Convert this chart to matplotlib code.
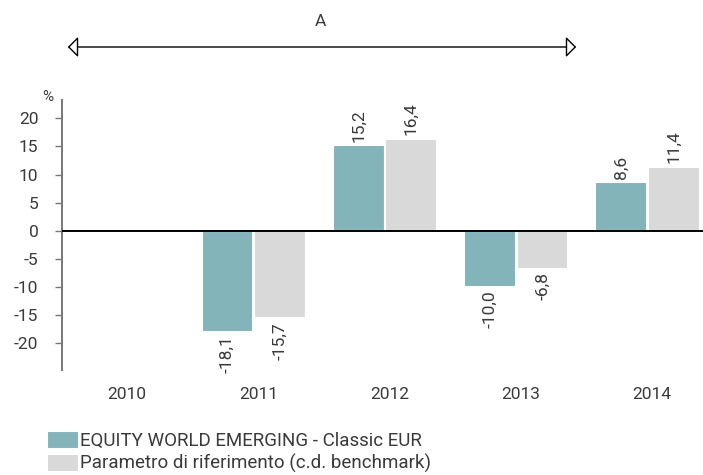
import matplotlib

matplotlib.use("Agg")
import matplotlib.pyplot as plt
import numpy as np
from matplotlib.patches import FancyArrowPatch

plt.rcParams["font.family"] = ["Roboto", "DejaVu Sans"]

years = ["2010", "2011", "2012", "2013", "2014"]
fund = [np.nan, -18.1, 15.2, -10.0, 8.6]
bench = [np.nan, -15.7, 16.4, -6.8, 11.4]
fund_label = "EQUITY WORLD EMERGING - Classic EUR"
bench_label = "Parametro di riferimento (c.d. benchmark)"
yticks = [-20, -15, -10, -5, 0, 5, 10, 15, 20]

TEAL = "#82b4ba"
GREY = "#d9d9d9"
TXT = "#3a3a3a"


def fmt(v):
    return f"{v:.1f}".replace(".", ",")


def main() -> None:
    fig = plt.figure(figsize=(7.03, 4.75), dpi=100)
    ax = fig.add_axes([62 / 703, 105 / 475, 656.5 / 703, 270 / 475])

    x = np.arange(len(years))
    w = 0.395
    b1 = ax.bar(x - 0.235, fund, w, color=TEAL, edgecolor="white", linewidth=1.5, label=fund_label)
    b2 = ax.bar(x + 0.165, bench, w, color=GREY, edgecolor="white", linewidth=1.5, label=bench_label)

    for bars, vals in ((b1, fund), (b2, bench)):
        for rect, v in zip(bars, vals):
            if np.isnan(v):
                continue
            cx = rect.get_x() + rect.get_width() / 2
            ax.annotate(
                fmt(v),
                (cx, v),
                xytext=(0, 2.5 if v > 0 else -2.5),
                textcoords="offset points",
                rotation=90,
                ha="center",
                va="bottom" if v > 0 else "top",
                fontsize=12.5,
                color=TXT,
            )

    ax.axhline(0, color="black", linewidth=1.4, zorder=3)
    ax.set_xlim(-0.495, 4.505)
    ax.set_ylim(-24.9, 23.3)
    ax.set_yticks(yticks)
    ax.set_yticklabels([str(t) for t in yticks], fontsize=12.5, color=TXT)
    ax.set_xticks(x)
    ax.set_xticklabels(years, fontsize=12.5, color=TXT)
    ax.tick_params(axis="x", length=0, pad=12)
    ax.tick_params(axis="y", length=5, width=1, color="#777777", pad=12)
    for s in ("top", "right", "bottom"):
        ax.spines[s].set_visible(False)
    ax.spines["left"].set_color("#777777")
    ax.spines["left"].set_linewidth(1.4)

    fig.text(48 / 703, 1 - 97 / 475, "%", ha="center", va="center", fontsize=11, color=TXT)

    # range arrow at the top
    arrow = FancyArrowPatch(
        (65 / 703, 1 - 47 / 475),
        (579 / 703, 1 - 47 / 475),
        transform=fig.transFigure,
        arrowstyle="<|-|>,head_length=0.45,head_width=0.45",
        facecolor="white",
        edgecolor="black",
        linewidth=1.0,
        mutation_scale=14,
    )
    fig.patches.append(arrow)
    fig.text(320 / 703, 1 - 22 / 475, "A", ha="center", va="center", fontsize=12.5, color=TXT)

    fig.legend(
        handles=[b1, b2],
        labels=[fund_label, bench_label],
        loc="upper left",
        bbox_to_anchor=(47 / 703, 1 - 431 / 475),
        frameon=False,
        fontsize=13.5,
        handlelength=1.7,
        handleheight=1.1,
        handletextpad=0.08,
        labelspacing=0.18,
        borderpad=0,
        borderaxespad=0,
        labelcolor=TXT,
    )

    fig.savefig("out.png", dpi=100)


if __name__ == "__main__":
    main()
